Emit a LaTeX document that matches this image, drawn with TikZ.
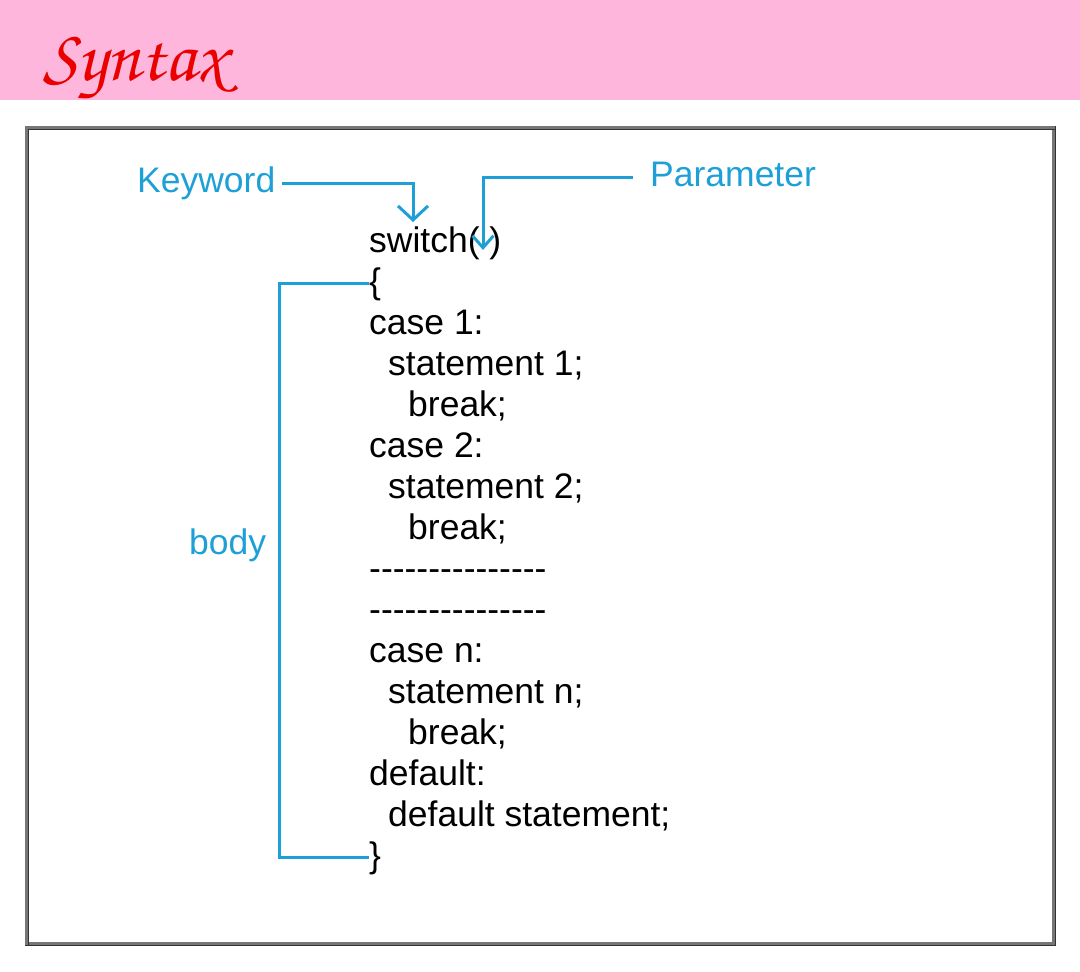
\documentclass[tikz,border=0pt]{standalone}
\usepackage[T1]{fontenc}
\usepackage{fontspec}
\setmainfont{Liberation Sans}[Ligatures=TeXOff]
\usetikzlibrary{arrows.meta,calc}
\definecolor{bandpink}{RGB}{255,182,220}
\definecolor{titlered}{RGB}{235,0,0}
\definecolor{callout}{RGB}{30,160,215}
\definecolor{framegray}{RGB}{118,118,118}
\tikzset{
  code/.style={anchor=base west, inner sep=0pt, text=black,
    font=\fontsize{35.5}{41}\selectfont},
  callouttext/.style={anchor=base west, inner sep=0pt, text=callout,
    text height=25.5pt, text depth=7.5pt,
    font=\fontsize{35.5}{41}\selectfont},
  conn/.style={draw=callout, line width=3pt},
}
\begin{document}
\begin{tikzpicture}[x=1pt,y=-1pt]
\useasboundingbox (0,0) rectangle (1080,972);
% title band
\fill[bandpink] (0,0) rectangle (1080,100);
\node[anchor=base west, inner sep=0pt, text=titlered,
  font=\fontencoding{T1}\fontfamily{pzc}\fontsize{74}{76}\selectfont]
  (title) at (43,80) {Syntax};
% framed panel
\draw[framegray, line width=3pt] (26.5,127.5) rectangle (1053.5,943.5);
\draw[black!80, line width=0.8pt] (28.4,945) -- (28.4,129.4) -- (1055,129.4);
\draw[black!80, line width=1pt] (25,945) -- (1055,945) -- (1055,126);
% code lines
\node[code] (sw) at (369,252) {switch(\ )};
\node[code] (lb) at (369,293) {\{};
\node[code] (c1) at (369,334) {case 1:};
\node[code] (s1) at (388,375) {statement 1;};
\node[code] (b1) at (408,416) {break;};
\node[code] (c2) at (369,457) {case 2:};
\node[code] (s2) at (388,498) {statement 2;};
\node[code] (b2) at (408,539) {break;};
\node[code] (d1) at (369,580) {---------------};
\node[code] (d2) at (369,621) {---------------};
\node[code] (cn) at (369,662) {case n:};
\node[code] (sn) at (388,703) {statement n;};
\node[code] (bn) at (408,744) {break;};
\node[code] (df) at (369,785) {default:};
\node[code] (ds) at (388,826) {default statement;};
\node[code] (rb) at (369,867) {\}};
% callout labels
\node[callouttext] (kw) at (137,192) {Keyword};
\node[callouttext] (par) at (650,186) {Parameter};
\node[callouttext] (body) at (189,554) {body};
% arrow targets on the switch line
\coordinate (kwtip) at ($(sw.base west)+(44,-30)$);
\coordinate (partip) at ($(sw.base west)+(114,-2)$);
% connectors
\draw[conn, -{Straight Barb[length=14pt,width=30pt]}]
  (kw.east) ++(6,0) -| (kwtip);
\draw[conn, -{Straight Barb[length=12pt,width=21pt]}]
  (par.west) ++(-17,0) -| (partip);
\draw[conn] (lb.west) -- ++(-90,0) |- (rb.west);
\end{tikzpicture}
\end{document}
